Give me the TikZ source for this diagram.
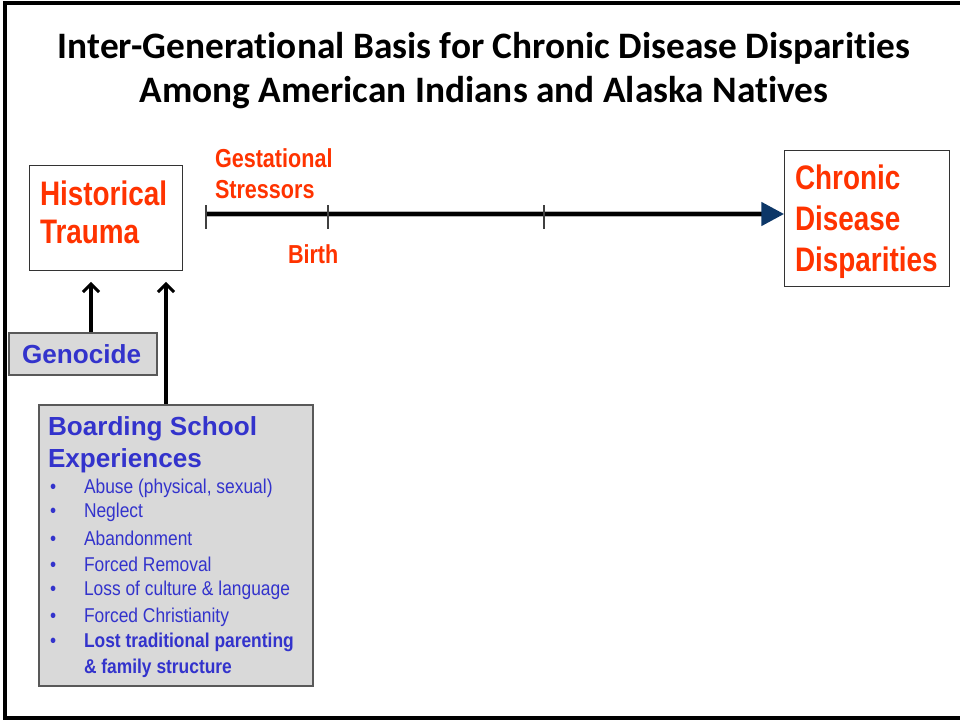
\documentclass[tikz,border=0pt]{standalone}
\usepackage{fontspec}
\usetikzlibrary{arrows.meta}
\setmainfont{Liberation Sans}
\newfontfamily\titlefont[Ligatures={NoCommon,NoRare}]{Carlito}
\newfontfamily\bigred[FakeStretch=0.82]{Liberation Sans}
\newfontfamily\midred[FakeStretch=0.83]{Liberation Sans}
\newfontfamily\listfont[FakeStretch=0.87]{Liberation Sans}
\definecolor{redtxt}{HTML}{FF3300}
\definecolor{bluetxt}{HTML}{3333CC}
\definecolor{navy}{HTML}{0D3768}
\definecolor{boxfill}{HTML}{D9D9D9}
\definecolor{boxline}{HTML}{595959}
\tikzset{
  txt/.style={anchor=base west, inner sep=0pt, outer sep=0pt},
  whitebox/.style={draw=black!80, line width=0.9pt, fill=white, inner sep=0pt, anchor=north west},
  greybox/.style={draw=boxline, line width=1.2pt, fill=boxfill, inner sep=0pt, anchor=north west},
  titletxt/.style={anchor=base, inner sep=0pt, font=\titlefont\bfseries\fontsize{28pt}{31pt}\selectfont},
  redbig/.style={txt, text=redtxt, font=\bigred\bfseries\fontsize{25.5pt}{28pt}\selectfont},
  redmid/.style={txt, text=redtxt, font=\midred\bfseries\fontsize{19.5pt}{22pt}\selectfont},
  bluehead/.style={txt, text=bluetxt, font=\bfseries\fontsize{19.6pt}{22pt}\selectfont},
  listtxt/.style={txt, text=bluetxt, font=\listfont\fontsize{15pt}{18pt}\selectfont},
  tickline/.style={draw=black!75, line width=0.8pt},
  uparrow/.style={line width=2.3pt, -{Straight Barb[length=6pt,width=12pt,line width=2.3pt]}},
}
\begin{document}
\begin{tikzpicture}[x=0.75pt,y=-0.75pt]
\useasboundingbox (0,0) rectangle (960,721);
% frame
\draw[line width=2.4pt] (962,3) -- (5,3) -- (5,718) -- (962,718);
% title
\node[titletxt] (t1) at (484,58) {Inter-Generational Basis for Chronic Disease Disparities};
\node[titletxt] (t2) at (484,102) {Among American Indians and Alaska Natives};
% boxes
\node[whitebox, minimum width=114.75pt, minimum height=78.75pt] (ht) at (29,165) {};
\node[redbig] (ht1) at (40,205) {Historical};
\node[redbig] (ht2) at (40,243) {Trauma};
\node[whitebox, minimum width=123.75pt, minimum height=102pt] (cdd) at (784,150) {};
\node[redbig] (cd1) at (795,189) {Chronic};
\node[redbig] (cd2) at (795,230) {Disease};
\node[redbig] (cd3) at (795,271) {Disparities};
% timeline labels
\node[redmid] (g1) at (215,167) {Gestational};
\node[redmid] (g2) at (215,198) {Stressors};
\node[redmid] (bi) at (288,263) {Birth};
% timeline
\coordinate (tl0) at (205,214);
\draw[black!30, line width=4.5pt] (tl0) -- ([xshift=-14pt]tl0 -| cdd.west);
\draw[black, line width=2.8pt, -{Triangle[length=17pt,width=17.5pt,color=navy]}] (tl0) -- (tl0 -| cdd.west);
\foreach \x in {206,328,544}{
  \draw[tickline] (\x,205) -- (\x,229);
}
% genocide
\node[greybox, minimum width=111pt, minimum height=31.5pt] (gen) at (8,332) {};
\node[bluehead] (gent) at (22,363) {Genocide};
% boarding school
\node[greybox, minimum width=205.5pt, minimum height=210.75pt] (bs) at (38,404) {};
\node[bluehead] (bs1) at (48,435) {Boarding School};
\node[bluehead] (bs2) at (48,467) {Experiences};
\foreach \y/\t in {493/{Abuse (physical, sexual)},517/{Neglect},545/{Abandonment},571/{Forced Removal},595/{Loss of culture \& language},622/{Forced Christianity}}{
  \node[listtxt] at (50,\y) {•};
  \node[listtxt] at (84,\y) {\t};
}
\node[listtxt] at (50,647) {•};
\node[listtxt, font=\listfont\bfseries\fontsize{15pt}{18pt}\selectfont] (l7) at (84,647) {Lost traditional parenting};
\node[listtxt, font=\listfont\bfseries\fontsize{15pt}{18pt}\selectfont] (l8) at (84,673) {\& family structure};
% arrows
\coordinate (ax1) at (91,0);
\coordinate (ax2) at (166,0);
\draw[uparrow, shorten >=8pt] (gen.north -| ax1) -- (ht.south -| ax1);
\draw[uparrow, shorten >=8pt] (bs.north -| ax2) -- (ht.south -| ax2);
\end{tikzpicture}
\end{document}
